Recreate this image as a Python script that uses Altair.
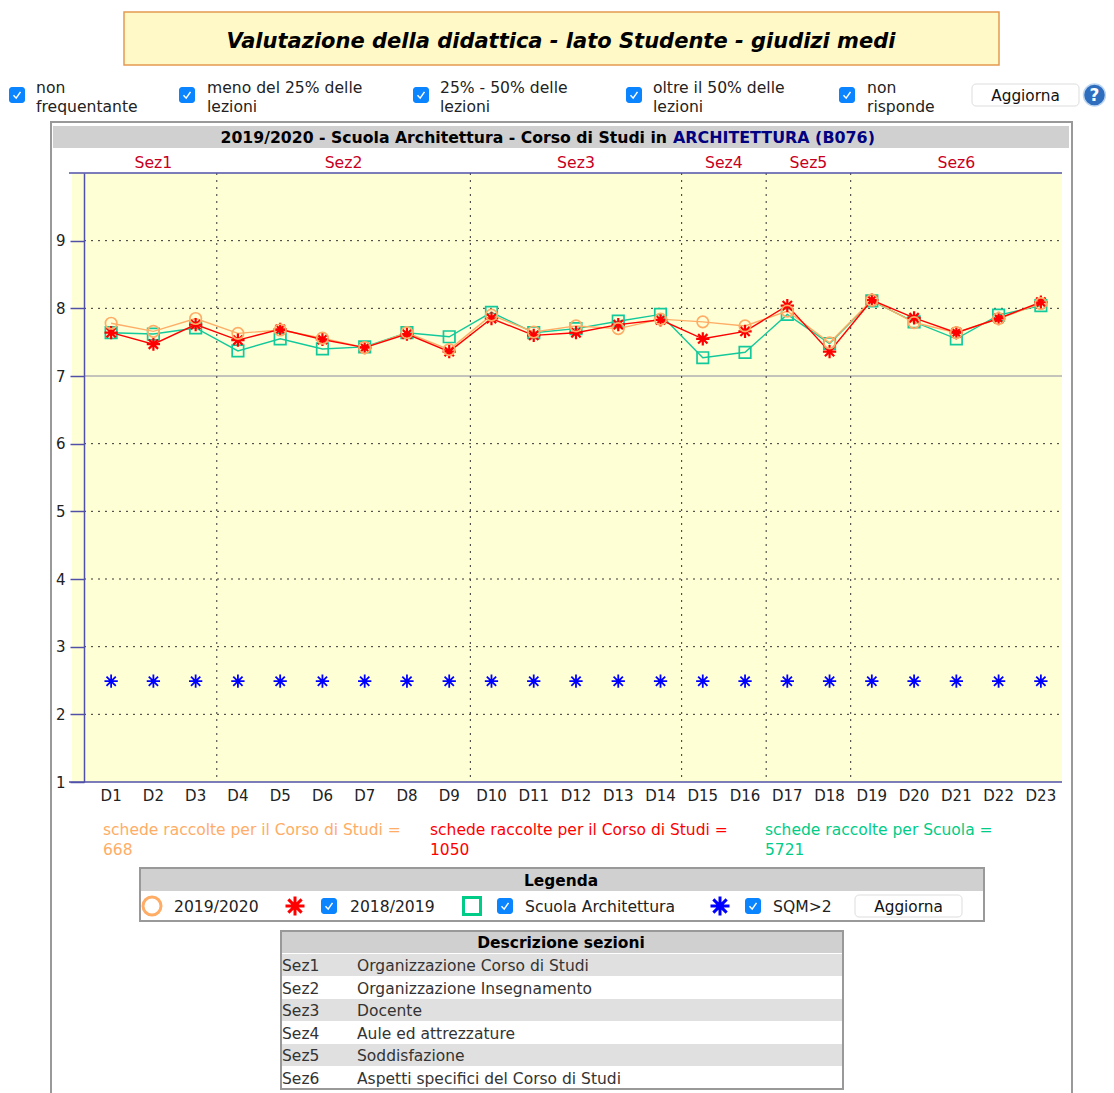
import altair as alt
import pandas as pd

FONT = "DejaVu Sans"
OX, OY = 72, 173  # plot-area origin on the page

items = [f"D{i}" for i in range(1, 24)]
y2019 = [7.78, 7.66, 7.85, 7.63, 7.68, 7.56, 7.42, 7.64, 7.39, 7.90, 7.65, 7.74,
         7.70, 7.84, 7.80, 7.74, 7.96, 7.49, 8.12, 7.79, 7.64, 7.85, 8.07]
y2018 = [7.64, 7.47, 7.76, 7.53, 7.69, 7.54, 7.42, 7.62, 7.36, 7.85, 7.60, 7.64,
         7.76, 7.83, 7.55, 7.66, 8.04, 7.36, 8.12, 7.86, 7.64, 7.85, 8.09]
scuola = [7.64, 7.62, 7.71, 7.37, 7.55, 7.40, 7.43, 7.64, 7.58, 7.94, 7.64, 7.70,
          7.81, 7.91, 7.27, 7.35, 7.91, 7.48, 8.11, 7.80, 7.55, 7.90, 8.04]
sqm = [2.49] * 23
ticks = [1, 2, 3, 4, 5, 6, 7, 8, 9]
dotted_levels = [2, 3, 4, 5, 6, 8, 9]
section_starts = ["D4", "D10", "D15", "D17", "D19"]
sez_center = [("Sez1", "D2"), ("Sez3", "D12"), ("Sez6", "D21")]
sez_edge = [("Sez2", "D6"), ("Sez4", "D15"), ("Sez5", "D17")]
sections = ["Organizzazione Corso di Studi", "Organizzazione Insegnamento", "Docente",
            "Aule ed attrezzature", "Soddisfazione", "Aspetti specifici del Corso di Studi"]

df = pd.DataFrame({"item": items, "y2019": y2019, "y2018": y2018, "scuola": scuola, "sqm": sqm})
one = pd.DataFrame({"a": [0]})

STAR = "M-1,0L1,0M0,-1L0,1M-0.7,-0.7L0.7,0.7M-0.7,0.7L0.7,-0.7"
CHECK = "M-0.5,0.05L-0.12,0.45L0.5,-0.45"

xscale = alt.Scale(type="band", domain=items, range=[18, 990], paddingInner=0, paddingOuter=0)
yscale = alt.Scale(domain=[1, 10], nice=False, zero=False)
X = lambda pos=0.5, **kw: alt.X("item:N", scale=xscale, bandPosition=pos, **kw)

layers = []


def box(x1, y1, x2, y2, fill, stroke=None, sw=0, r=0):
    kw = dict(fill=fill)
    if stroke:
        kw.update(stroke=stroke, strokeWidth=sw)
    if r:
        kw.update(cornerRadius=r)
    layers.append(alt.Chart(one).mark_rect(**kw).encode(
        x=alt.value(x1 - OX), x2=alt.value(x2 - OX),
        y=alt.value(y1 - OY), y2=alt.value(y2 - OY)))


def txt(s, x, y, size=15.6, color="#222222", align="left", bold=False, italic=False):
    kw = dict(font=FONT, fontSize=size, color=color, align=align, baseline="middle")
    if bold:
        kw["fontWeight"] = "bold"
    if italic:
        kw["fontStyle"] = "italic"
    layers.append(alt.Chart(one).mark_text(**kw).encode(
        x=alt.value(x - OX), y=alt.value(y - OY), text=alt.value(s)))


def sym(shape, x, y, size, stroke, sw, fill=None):
    kw = dict(shape=shape, size=size, stroke=stroke, strokeWidth=sw, opacity=1)
    if fill:
        kw.update(filled=True, fill=fill)
    else:
        kw.update(filled=False)
    layers.append(alt.Chart(one).mark_point(**kw).encode(x=alt.value(x - OX), y=alt.value(y - OY)))


def checkbox(x, y):
    box(x - 8, y - 8, x + 8, y + 8, "#0A84FF", r=3)
    sym(CHECK, x, y, 196, "white", 1.5)


def button(x1, y1, x2, y2, label, size=15.3):
    box(x1, y1, x2, y2, "white", "#DDDDDD", 1, 4)
    txt(label, (x1 + x2) / 2, (y1 + y2) / 2 + 0.5, size, "#111111", "center")


# Page furniture above the chart
box(124, 12, 999, 65, "#FFF9C8", "#E59A50", 1.5)
txt("Valutazione della didattica - lato Studente - giudizi medi", 561, 42, 21, "#000000", "center", True, True)
for x, tx, a, b in [(17, 36, "non", "frequentante"), (187, 207, "meno del 25% delle", "lezioni"),
                    (421, 440, "25% - 50% delle", "lezioni"), (634, 653, "oltre il 50% delle", "lezioni"),
                    (847, 867, "non", "risponde")]:
    checkbox(x, 95)
    txt(a, tx, 87.5)
    txt(b, tx, 107)
button(972, 84, 1079, 106, "Aggiorna")
sym("circle", 1094.5, 95, 484, "#BBD4F0", 1.5, "#2E6DBE")
txt("?", 1094.5, 95.5, 17, "white", "center", True)

# Frame and header
box(51, 122, 1072, 1300, "white", "#999999", 2)
box(53, 126, 1069, 148, "#D0D0D0")
txt("2019/2020 - Scuola Architettura - Corso di Studi in", 667, 138, 15.7, "#000000", "right", True)
txt("ARCHITETTURA (B076)", 673, 138, 15.9, "#000080", "left", True)

# Plot background
box(72, 173, 1062, 782, "#FFFFD6")

# Grid
layers.append(alt.Chart(pd.DataFrame({"v": dotted_levels})).mark_rule(
    color="#333333", strokeDash=[2, 5], strokeWidth=1).encode(
    x=alt.value(12), x2=alt.value(990), y=alt.Y("v:Q", scale=yscale)))
layers.append(alt.Chart(pd.DataFrame({"v": [7]})).mark_rule(color="#8888A0", strokeWidth=1).encode(
    x=alt.value(12), x2=alt.value(990), y=alt.Y("v:Q", scale=yscale)))
layers.append(alt.Chart(pd.DataFrame({"item": section_starts})).mark_rule(
    color="#333333", strokeDash=[2, 5], strokeWidth=1).encode(x=X(0)))

# Top and bottom lines
layers.append(alt.Chart(pd.DataFrame({"v": [1, 10]})).mark_rule(color="#5050A8", strokeWidth=1.5).encode(
    x=alt.value(-3), x2=alt.value(990), y=alt.Y("v:Q", scale=yscale)))

# Axes (drawn with the scale-bound layer)
base = alt.Chart(df).mark_point(opacity=0).encode(
    x=X(0.5, axis=alt.Axis(title=None, labelAngle=0, labelAlign="center", labelBaseline="top",
                           domain=False, ticks=False, labelPadding=6,
                           labelFont=FONT, labelFontSize=15, labelColor="#222222",
                           labelOverlap=False, grid=False, zindex=1)),
    y=alt.Y("y2019:Q", scale=yscale,
            axis=alt.Axis(title=None, values=ticks, format="d", offset=-12, tickSize=14, tickWidth=1.5,
                          domainColor="#5050A8", domainWidth=1.5, tickColor="#5050A8", labelPadding=5,
                          labelFont=FONT, labelFontSize=15, labelColor="#222222", grid=False, zindex=1)))
layers.append(base)

# Series
GREEN, ORANGE, RED, BLUE = "#12C99B", "#FFAD66", "#FF0000", "#0000FF"


def line(col, color, w=1.4):
    layers.append(alt.Chart(df).mark_line(color=color, strokeWidth=w).encode(
        x=X(), y=alt.Y(f"{col}:Q", scale=yscale)))


def pts(col, shape, size, color, sw):
    layers.append(alt.Chart(df).mark_point(shape=shape, size=size, stroke=color, strokeWidth=sw,
                                           filled=False, opacity=1).encode(
        x=X(), y=alt.Y(f"{col}:Q", scale=yscale)))


line("scuola", GREEN)
pts("scuola", "square", 132, GREEN, 1.7)
line("y2019", ORANGE)
line("y2018", RED)
pts("y2018", STAR, 177, RED, 2.2)
pts("y2019", "circle", 132, ORANGE, 1.7)
pts("sqm", STAR, 177, BLUE, 1.8)

# Section labels
for rows, pos in [(sez_center, 0.5), (sez_edge, 1)]:
    layers.append(alt.Chart(pd.DataFrame(rows, columns=["s", "item"])).mark_text(
        font=FONT, fontSize=15.7, color="#C8001E", baseline="middle").encode(
        x=X(pos), y=alt.value(-10), text="s:N"))

# Counts
for x, color, a, b in [(103, "#FFAD66", "schede raccolte per il Corso di Studi =", "668"),
                       (430, "#FF0000", "schede raccolte per il Corso di Studi =", "1050"),
                       (765, "#00CC88", "schede raccolte per Scuola =", "5721")]:
    txt(a, x, 830, 15.5, color)
    txt(b, x, 850, 15.5, color)

# Legend
box(140, 868, 984, 921, "white", "#999999", 2)
box(141, 869, 983, 891, "#D0D0D0")
txt("Legenda", 561, 881, 15.4, "#000000", "center", True)
sym("circle", 152, 906, 324, ORANGE, 3)
txt("2019/2020", 174, 907)
sym(STAR, 295, 906, 361, RED, 3)
checkbox(329, 906)
txt("2018/2019", 350, 907)
sym("square", 472, 906, 289, "#00CC88", 3)
checkbox(505, 906)
txt("Scuola Architettura", 525, 907)
sym(STAR, 720, 906, 361, BLUE, 3)
checkbox(753, 906)
txt("SQM>2", 773, 907)
button(855, 895, 962, 917, "Aggiorna")

# Section description table
box(281, 931, 843, 1089, "white", "#999999", 2)
box(282, 932, 842, 953, "#D0D0D0")
txt("Descrizione sezioni", 561, 943, 15.5, "#000000", "center", True)
row_y = [965, 988, 1010, 1033, 1055, 1078]
for i, (name, ry) in enumerate(zip(sections, row_y)):
    if i % 2 == 0:
        box(282, ry - 11, 842, ry + 11, "#E0E0E0")
    txt(f"Sez{i + 1}", 282, ry + 0.5, 15.5, "#333333")
    txt(name, 357, ry + 0.5, 15.5, "#333333")

chart = alt.layer(*layers).properties(
    width=990, height=609,
    padding={"left": OX - 8, "top": OY - 8, "right": 44, "bottom": 311},
    autosize=alt.AutoSizeParams(type="none"),
    background="white",
).configure_view(stroke=None)

chart.save("out.html", embed_options={"renderer": "svg", "actions": False})
